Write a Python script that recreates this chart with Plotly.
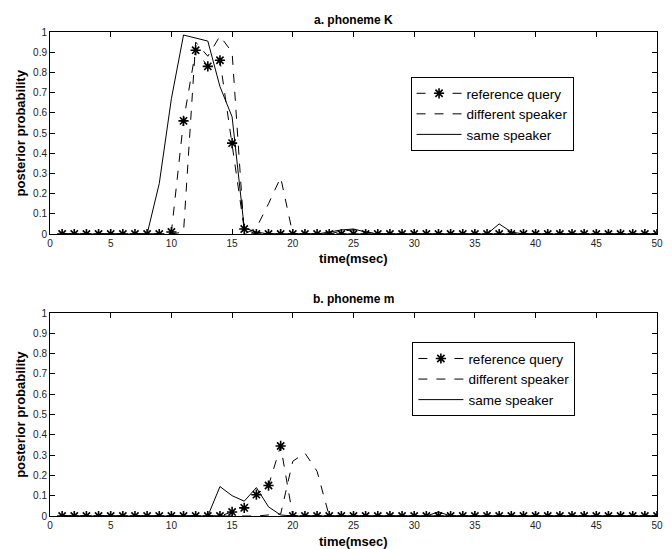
import plotly.graph_objects as go

time = list(range(1, 51))

# phoneme K
k_reference = [0]*9 + [0.01, 0.56, 0.91, 0.83, 0.86, 0.45, 0.025] + [0]*34
k_different = [0]*10 + [0.01, 0.95, 0.88, 0.98, 0.90, 0.0, 0.03, 0.15, 0.28, 0.0,
                        0, 0, 0, 0.015, 0.02, 0.01] + [0]*24
k_same = [0]*8 + [0.25, 0.67, 0.985, 0.97, 0.955, 0.73, 0.58, 0.03, 0.01,
                  0, 0, 0, 0, 0, 0.01, 0.02, 0.025, 0.01,
                  0, 0, 0, 0, 0, 0, 0, 0, 0, 0, 0.05, 0.01] + [0]*12

# phoneme m
m_reference = [0]*14 + [0.02, 0.04, 0.105, 0.15, 0.345] + [0]*31
m_different = [0]*17 + [0.005, 0.01, 0.27, 0.31, 0.22, 0.0] + [0]*27
m_same = [0]*13 + [0.145, 0.10, 0.073, 0.14, 0.045, 0.005] + [0]*12 + [0.02] + [0]*18

x_ticks = list(range(0, 51, 5))
y_ticks = [0, 0.1, 0.2, 0.3, 0.4, 0.5, 0.6, 0.7, 0.8, 0.9, 1]
y_ticktext = ["0", "0.1", "0.2", "0.3", "0.4", "0.5", "0.6", "0.7", "0.8", "0.9", "1"]

FONT = "Liberation Sans, Arial, sans-serif"
fig = go.Figure()

def add_panel(ref, diff, same, xa, ya, legend):
    fig.add_trace(go.Scatter(x=time, y=ref, mode="lines+markers", name="reference query",
                             line=dict(color="black", width=1, dash="dash"),
                             marker=dict(symbol="asterisk-open", size=8.5,
                                         line=dict(color="black", width=1.6)),
                             xaxis=xa, yaxis=ya, legend=legend))
    fig.add_trace(go.Scatter(x=time, y=diff, mode="lines", name="different speaker",
                             line=dict(color="black", width=1, dash="dash"),
                             xaxis=xa, yaxis=ya, legend=legend))
    fig.add_trace(go.Scatter(x=time, y=same, mode="lines", name="same speaker",
                             line=dict(color="black", width=1),
                             xaxis=xa, yaxis=ya, legend=legend))

add_panel(k_reference, k_different, k_same, "x", "y", "legend")
add_panel(m_reference, m_different, m_same, "x2", "y2", "legend2")

axis_common = dict(showline=True, linecolor="black", linewidth=1, mirror="ticks",
                   ticks="inside", ticklen=5, tickcolor="black", showgrid=False,
                   zeroline=False, tickfont=dict(family=FONT, size=10, color="#222"))

xa = dict(range=[0, 50], tickvals=x_ticks, **axis_common)
ya = dict(range=[0, 1], tickvals=y_ticks, ticktext=y_ticktext, **axis_common)

legend_common = dict(bgcolor="white", bordercolor="black", borderwidth=1,
                     font=dict(family=FONT, size=13.5, color="black"),
                     xanchor="left", yanchor="top", tracegroupgap=0, itemwidth=45)

# page has an 8px body margin, so the figure is sized 8px smaller
fig.update_layout(
    width=664, height=541,
    margin=dict(l=42, r=9, t=24, b=33),
    paper_bgcolor="white", plot_bgcolor="white",
    xaxis=dict(domain=[0, 1], anchor="y", **xa),
    yaxis=dict(domain=[0.5826, 1], anchor="x", **ya),
    xaxis2=dict(domain=[0, 1], anchor="y2", **xa),
    yaxis2=dict(domain=[0, 0.4194], anchor="x2", **ya),
    legend=dict(x=0.594, y=0.907, **legend_common),
    legend2=dict(x=0.597, y=0.359, **legend_common),
    showlegend=True,
)

bold = dict(family=FONT, size=13, color="black")
ann = [
    dict(text="<b>a. phoneme K</b>", x=0.5, y=1.0248, font=dict(family=FONT, size=12, color="black")),
    dict(text="<b>b. phoneme m</b>", x=0.5, y=0.4483, font=dict(family=FONT, size=12, color="black")),
    dict(text="<b>time(msec)</b>", x=0.5, y=0.533, font=bold),
    dict(text="<b>time(msec)</b>", x=0.5, y=-0.0517, font=bold),
    dict(text="<b>posterior probability</b>", x=-0.0489, y=0.791, textangle=-90, font=bold),
    dict(text="<b>posterior probability</b>", x=-0.0489, y=0.2097, textangle=-90, font=bold),
]
for a in ann:
    fig.add_annotation(xref="paper", yref="paper", showarrow=False,
                       xanchor="center", yanchor="middle", **a)

fig.write_html("out.html")
